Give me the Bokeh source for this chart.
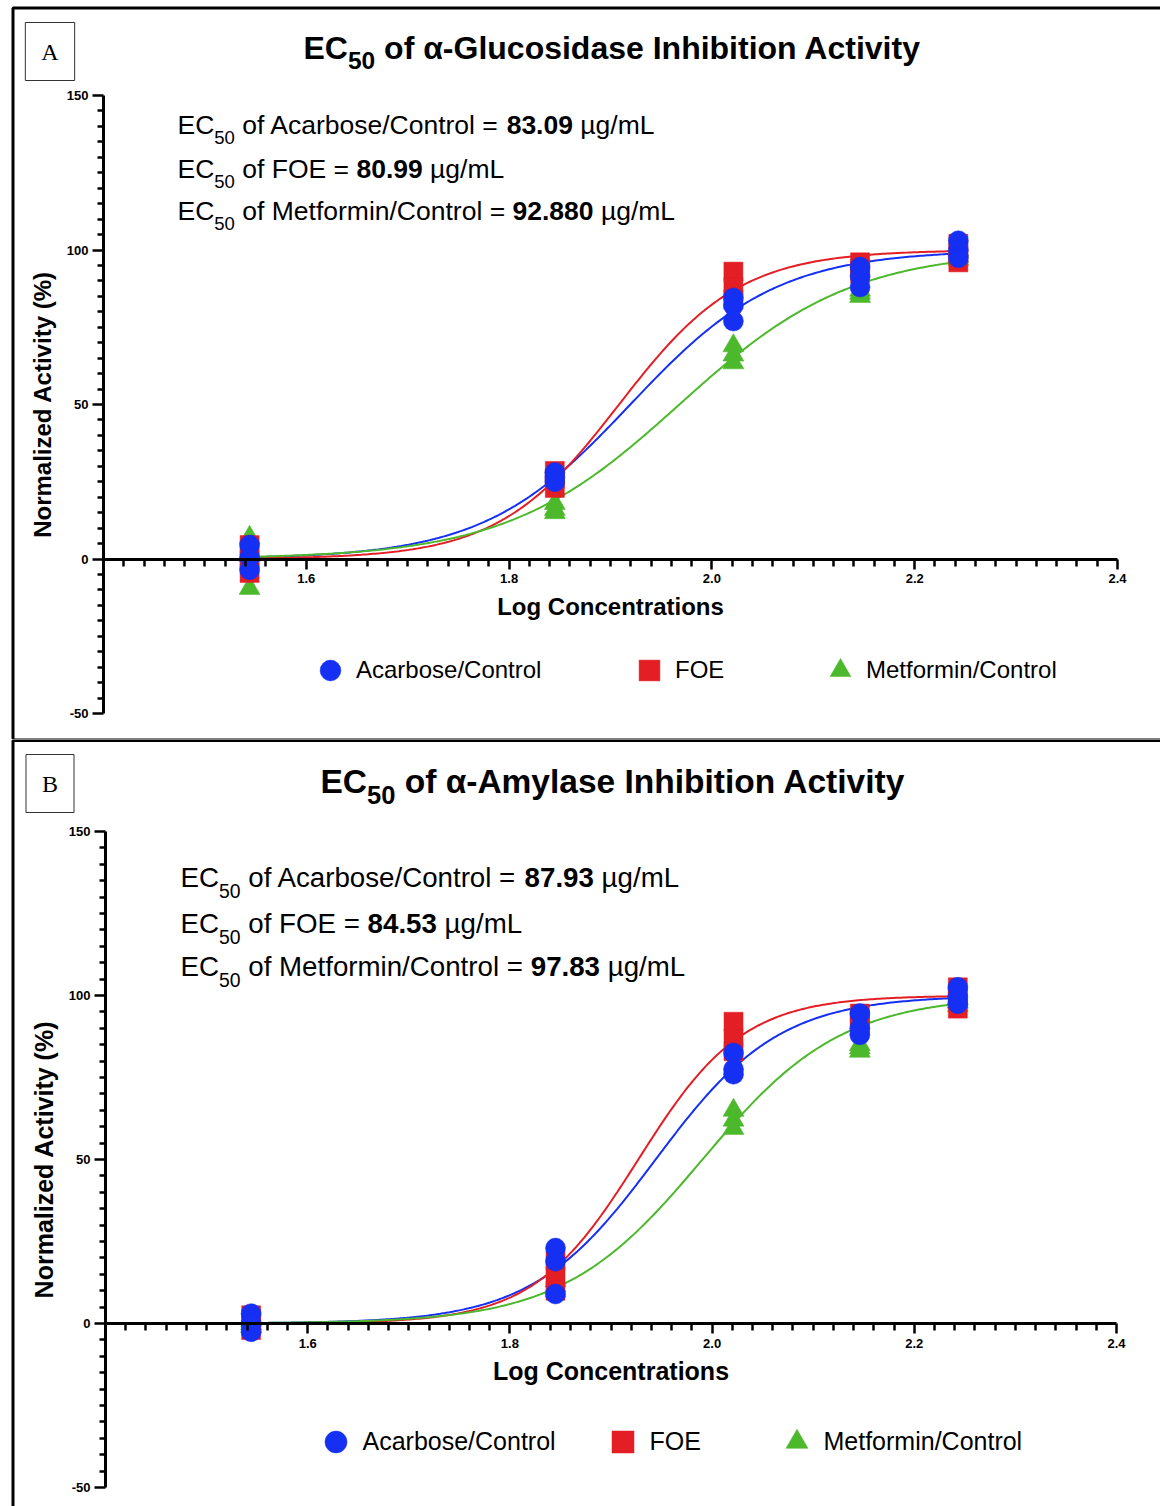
import numpy as np
from bokeh.plotting import figure
from bokeh.models import (LinearAxis, FixedTicker, Range1d, Label, Legend,
                          LegendItem, BoxAnnotation, PrintfTickFormatter)
from bokeh.layouts import column
from bokeh.embed import file_html
from bokeh.resources import INLINE

# ---------------- data ----------------
concentrations = [35, 70, 105, 140, 175]          # µg/mL (x = log10)
groups = ["Acarbose/Control", "FOE", "Metformin/Control"]

# Panel A : alpha-glucosidase, three replicates per concentration
A_acarbose = [[4.5, 0.5, -3.5], [28, 26.5, 25], [84.5, 82, 77], [94.5, 91.5, 88], [103, 100, 97.5]]
A_foe = [[4.5, 0, -4.5], [28.5, 26, 23], [93, 88, 84], [96, 94, 92.5], [102, 99, 96]]
A_metformin = [[7, 1, -9.5], [18, 16, 15], [69, 66, 63.5], [87, 86, 85], [100, 98, 97]]
A_ec50 = [83.09, 80.99, 92.88]
A_ec50_text = ["83.09", "80.99", "92.880"]
A_hill = [6.0, 7.3, 5.1]

# Panel B : alpha-amylase
B_acarbose = [[3, 0, -2.5], [23, 19, 9], [82.5, 77.5, 76], [94.5, 90, 88], [102.5, 99.5, 97.5]]
B_foe = [[2.5, 0, -2], [19, 14.5, 10], [92, 87, 83], [94.5, 92.5, 90.5], [102.5, 99, 96]]
B_metformin = [[1, 0, -1], [13, 11.5, 10], [65, 62, 59.5], [85, 84, 83], [99, 98, 97]]
B_ec50 = [87.93, 84.53, 97.83]
B_ec50_text = ["87.93", "84.53", "97.83"]
B_hill = [7.1, 8.4, 6.3]

x_major = [1.6, 1.8, 2.0, 2.2, 2.4]
y_major = [-50, 0, 50, 100, 150]

# ---------------- style ----------------
FONT = "Liberation Sans"
COLORS = ["#1530F2", "#E31E24", "#4CB82B"]
MARKERS = ["circle", "square", "triangle"]
MSIZE = [20, 19, 21]
W = 1160

REG = {' ': 278, 'o': 556, 'f': 278, 'A': 667, 'c': 500, 'a': 556, 'r': 333, 'b': 556,
       's': 500, 'e': 556, '/': 278, 'C': 722, 'n': 556, 't': 278, 'l': 222, '=': 584,
       'µ': 576, 'g': 556, 'm': 833, 'L': 556, 'F': 611, 'O': 778, 'E': 667, 'M': 833,
       'i': 222, '0': 556, '5': 556}
BOLD = {' ': 278, '.': 278, 'E': 667, 'C': 722}


def tw(s, size, bold=False):
    t = BOLD if bold else REG
    return sum(t.get(ch, 556) for ch in s) * size / 1000.0


def make_panel(g, letter, title_rest, data, ec50, ec_txt, hill):
    fl, fr, ft, fb, top, h = g["fl"], g["fr"], g["ft"], g["fb"], g["top"], g["h"]

    def dx(px):
        return 1.4 + (px - fl) / (fr - fl) * 1.0

    def dy(py):
        return -50 + (fb - py) / (fb - ft) * 200.0

    p = figure(width=W, height=h, x_range=Range1d(dx(0), dx(W)),
               y_range=Range1d(dy(top + h), dy(top)),
               x_axis_type=None, y_axis_type=None, toolbar_location=None, output_backend="svg",
               min_border_left=0, min_border_right=0, min_border_top=0, min_border_bottom=0)
    p.title.visible = False
    p.outline_line_color = None
    p.background_fill_color = "white"
    p.border_fill_color = "white"

    # axes
    y_minor = [v for v in range(-50, 151, 5) if v % 50 != 0]
    x_minor = [round(1.4 + 0.02 * k, 2) for k in range(1, 50) if k % 10 != 0]
    yax = LinearAxis(fixed_location=1.4, bounds=(-50, 150),
                     ticker=FixedTicker(ticks=y_major, minor_ticks=y_minor),
                     formatter=PrintfTickFormatter(format="%d"),
                     axis_label="Normalized Activity (%)")
    xax = LinearAxis(fixed_location=0, bounds=(1.4, 2.4),
                     ticker=FixedTicker(ticks=x_major, minor_ticks=x_minor),
                     formatter=PrintfTickFormatter(format="%.1f"),
                     axis_label="Log Concentrations")
    for ax, mo, mi in ((yax, 11, 6), (xax, 10, 7)):
        ax.axis_line_width = 3
        ax.major_tick_line_width = 2.5
        ax.minor_tick_line_width = 2.5
        ax.major_tick_out = mo
        ax.major_tick_in = 0
        ax.minor_tick_out = mi
        ax.minor_tick_in = 0
        ax.major_label_text_font = FONT
        ax.major_label_text_font_style = "bold"
        ax.major_label_text_font_size = "13px"
        ax.major_label_text_color = "black"
        ax.axis_label_text_font = FONT
        ax.axis_label_text_font_style = "bold"
        ax.axis_label_text_font_size = g["lab"]
        ax.axis_label_text_color = "black"
    yax.major_label_standoff = 4
    yax.axis_label_standoff = 8
    xax.major_label_standoff = 5
    xax.axis_label_standoff = 6
    p.add_layout(yax, "left")
    p.add_layout(xax, "below")

    # curves
    logc = np.log10(concentrations)
    xs = np.linspace(logc[0], logc[-1], 300)
    for i in range(3):
        ys = 100.0 / (1.0 + 10 ** ((np.log10(ec50[i]) - xs) * hill[i]))
        p.line(xs, ys, line_color=COLORS[i], line_width=2)

    # points (green under red under blue)
    rends = {}
    for i in (2, 1, 0):
        px, py = [], []
        for k, reps in enumerate(data[i]):
            for v in reps:
                px.append(logc[k])
                py.append(v)
        rends[i] = p.scatter(px, py, marker=MARKERS[i], size=MSIZE[i],
                             fill_color=COLORS[i], line_color=COLORS[i], line_width=0.5)

    # legends
    gw = g["gw"]
    for i in range(3):
        cx = g["leg_x"][i]
        lg = Legend(items=[LegendItem(label=groups[i], renderers=[rends[i]])],
                    location=(cx - gw / 2, (top + h) - (g["leg_y"] + gw / 2)),
                    orientation="horizontal", glyph_width=gw, glyph_height=gw,
                    label_height=gw, label_standoff=0, padding=0, margin=0, spacing=0,
                    border_line_color=None, background_fill_alpha=0,
                    label_text_font=FONT, label_text_font_size=g["leg_fs"],
                    label_text_color="black")
        p.add_layout(lg)

    # panel frame
    p.add_layout(BoxAnnotation(left=dx(12.5), right=dx(1400), top=dy(g["box_top"]),
                               bottom=dy(g["box_bot"]), fill_color=None, fill_alpha=0,
                               line_color="black", line_alpha=1.0, line_width=3))

    # letter box
    p.add_layout(Label(x=dx(g["let"][0]), y=dy(g["let"][1]), text=letter, text_align="center",
                       text_baseline="middle", text_font="Liberation Serif",
                       text_font_size="24px", text_color="black", border_line_color="#333333",
                       border_line_width=1, padding=16, background_fill_color=None))

    def seg(text, px, py, size, bold):
        p.add_layout(Label(x=dx(px), y=dy(py), text=text, text_align="left",
                           text_baseline="middle", text_font=FONT,
                           text_font_size=f"{size}px",
                           text_font_style="bold" if bold else "normal", text_color="black"))

    # title  (y positions are vertical centres of the text)
    tf, ts, tx, tc, tsc = g["title"]
    seg("EC", tx, tc, tf, True)
    x = tx + tw("EC", tf, True)
    seg("50", x, tsc, ts, True)
    x += tw("50", ts, True) + tw(" ", tf, True)
    seg(title_rest, x, tc, tf, True)

    # EC50 lines
    ef, es, ex, ecs, esub = g["ec"]
    for i in range(3):
        c = ecs[i]
        seg("EC", ex, c, ef, False)
        x = ex + tw("EC", ef)
        seg("50", x, c + esub, es, False)
        x += tw("50", es)
        mid = " of " + groups[i] + " = "
        seg(mid.strip(), x + tw(" ", ef), c, ef, False)
        x += tw(mid, ef)
        seg(ec_txt[i], x, c, ef, True)
        x += tw(ec_txt[i], ef, True) + tw(" ", ef)
        seg("µg/mL", x, c, ef, False)
    return p


gA = dict(top=0, h=739, fl=103, fr=1117, ft=95, fb=713, lab="24px", gw=52,
          leg_x=[330, 649, 840], leg_y=670, leg_fs="24px", box_top=7.5, box_bot=739.5,
          let=(49.5, 51), title=(32, 24.5, 303, 47, 60),
          ec=(26.5, 18.5, 177, [124.7, 168.7, 210.7], 12.3))
gB = dict(top=739, h=767, fl=105, fr=1116, ft=831, fb=1487, lab="25px", gw=55,
          leg_x=[335, 622, 796], leg_y=1441, leg_fs="25px", box_top=740, box_bot=1700,
          let=(49.5, 783), title=(33.5, 25.5, 320, 780.5, 794),
          ec=(27.7, 19.4, 180, [877.3, 923.3, 966.3], 12.9))

pA = make_panel(gA, "A", "of α-Glucosidase Inhibition Activity",
                [A_acarbose, A_foe, A_metformin], A_ec50, A_ec50_text, A_hill)
pB = make_panel(gB, "B", "of α-Amylase Inhibition Activity",
                [B_acarbose, B_foe, B_metformin], B_ec50, B_ec50_text, B_hill)

layout = column(pA, pB, spacing=0)
open("out.html", "w").write(file_html(layout, INLINE))
